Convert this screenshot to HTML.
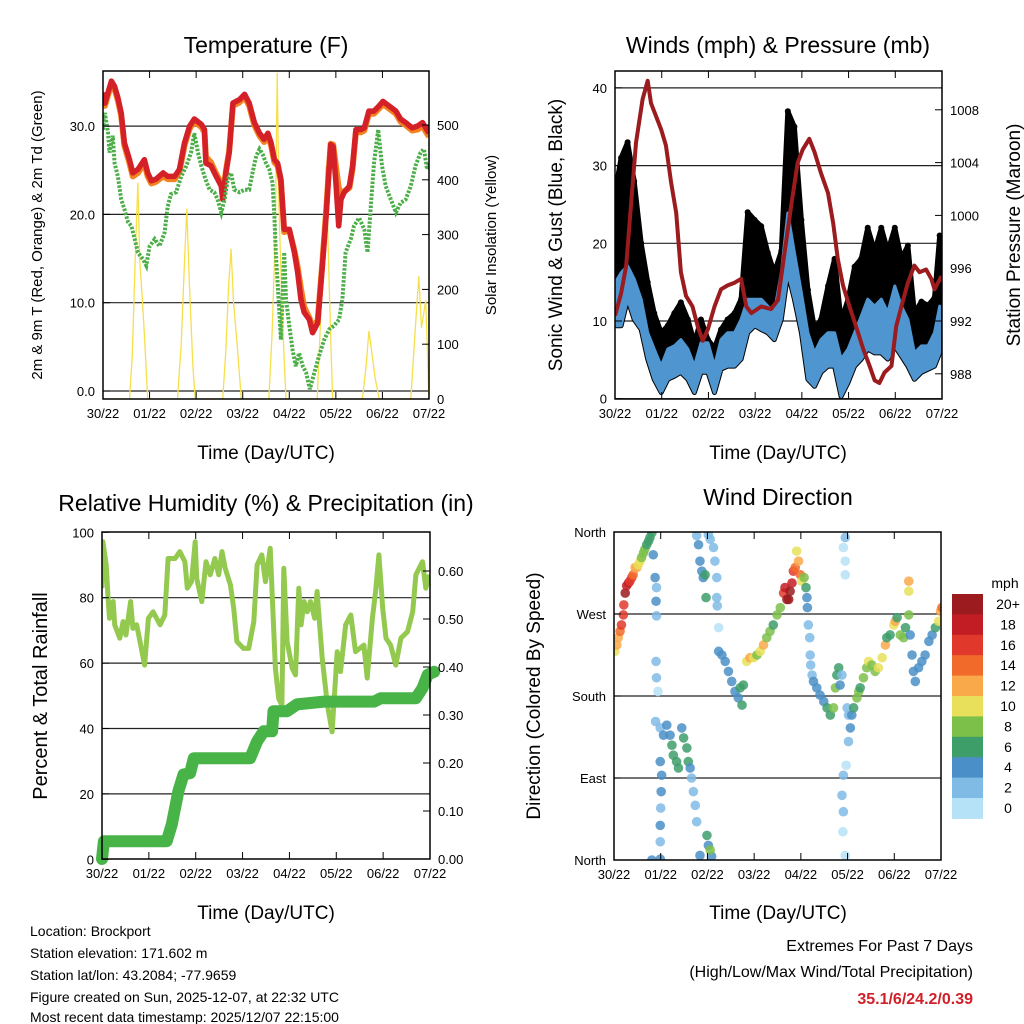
<!DOCTYPE html>
<html><head><meta charset="utf-8">
<style>
html,body{margin:0;padding:0;background:#fff;}
svg{display:block;font-family:"Liberation Sans",sans-serif;}
</style></head>
<body>
<svg id="chart" width="1024" height="1024" viewBox="0 0 1024 1024" xmlns="http://www.w3.org/2000/svg">
<rect x="0" y="0" width="1024" height="1024" fill="#fff"/>
<text x="266" y="53" font-size="23" text-anchor="middle">Temperature (F)</text>
<text x="778" y="53" font-size="23" text-anchor="middle">Winds (mph) &amp; Pressure (mb)</text>
<text x="266" y="511" font-size="23" text-anchor="middle">Relative Humidity (%) &amp; Precipitation (in)</text>
<text x="778" y="505" font-size="23" text-anchor="middle">Wind Direction</text>

<text transform="translate(42,235) rotate(-90)" font-size="15" text-anchor="middle">2m &amp; 9m T (Red, Orange) &amp; 2m Td (Green)</text>
<text transform="translate(496,235) rotate(-90)" font-size="15" text-anchor="middle">Solar Insolation (Yellow)</text>
<text transform="translate(562,235) rotate(-90)" font-size="19" text-anchor="middle">Sonic Wind &amp; Gust (Blue, Black)</text>
<text transform="translate(1020,235) rotate(-90)" font-size="19" text-anchor="middle">Station Pressure (Maroon)</text>
<text transform="translate(47,696) rotate(-90)" font-size="20" text-anchor="middle">Percent &amp; Total Rainfall</text>
<text transform="translate(540,696) rotate(-90)" font-size="19" text-anchor="middle">Direction (Colored By Speed)</text>

<text x="266" y="459" font-size="19" text-anchor="middle">Time (Day/UTC)</text>
<text x="778" y="459" font-size="19" text-anchor="middle">Time (Day/UTC)</text>
<text x="266" y="919" font-size="19" text-anchor="middle">Time (Day/UTC)</text>
<text x="778" y="919" font-size="19" text-anchor="middle">Time (Day/UTC)</text>

<g font-size="14">
<text x="30" y="936">Location: Brockport</text>
<text x="30" y="958">Station elevation: 171.602 m</text>
<text x="30" y="980">Station lat/lon: 43.2084; -77.9659</text>
<text x="30" y="1002">Figure created on Sun, 2025-12-07, at 22:32 UTC</text>
<text x="30" y="1024" dy="-2">Most recent data timestamp: 2025/12/07 22:15:00</text>
</g>
<g font-size="16" text-anchor="end">
<text x="973" y="951">Extremes For Past 7 Days</text>
<text x="973" y="977">(High/Low/Max Wind/Total Precipitation)</text>
<text x="973" y="1004" fill="#d0202a" font-weight="bold">35.1/6/24.2/0.39</text>
</g>
</svg>
<script>
// ---------- Data ----------
const dayLabels = ["30/22","01/22","02/22","03/22","04/22","05/22","06/22","07/22"];

const tempDays = [0,0.04,0.18,0.25,0.32,0.39,0.46,0.57,0.64,0.75,0.89,0.96,1.04,1.14,1.29,1.39,1.54,1.64,1.75,1.86,1.96,2.11,2.18,2.21,2.32,2.43,2.54,2.57,2.64,2.71,2.79,2.93,3.04,3.14,3.25,3.36,3.46,3.54,3.61,3.68,3.75,3.82,3.89,4.0,4.11,4.18,4.25,4.32,4.43,4.5,4.61,4.71,4.79,4.86,4.89,4.94,5.0,5.06,5.11,5.18,5.29,5.36,5.43,5.54,5.61,5.71,5.82,5.93,6.01,6.14,6.29,6.39,6.5,6.64,6.75,6.86,6.93,7.0];
const tempRed = [33.8,32.6,35.1,34.5,33.2,31.5,28.1,26.2,24.7,25.1,26.2,24.7,23.8,24.0,24.7,24.3,24.3,25.1,28.1,30.0,30.8,30.2,29.6,25.8,25.5,24.3,23.2,21.7,24.7,27.0,32.6,33.0,33.6,32.6,30.4,29.2,28.5,29.2,28.1,26.2,25.8,24.0,18.3,18.3,15.7,13.4,10.4,8.9,8.1,6.6,7.7,14.2,19.8,25.5,27.9,27.7,23.6,18.7,21.7,22.5,23.2,25.5,29.6,29.6,29.8,31.7,31.7,32.3,32.8,32.3,31.7,30.8,30.4,29.8,30.0,30.4,29.8,29.2];
const tempOrange = [33.5,32.3,34.8,34.2,32.9,31.2,27.8,25.8,24.3,24.7,25.8,24.3,23.5,23.7,24.3,24.0,24.0,24.8,27.8,29.7,30.5,29.9,29.3,26.5,25.9,24.6,23.5,22.0,24.9,27.2,32.3,32.7,33.3,32.3,30.1,28.9,28.2,28.9,27.8,25.9,25.5,23.7,18.0,18.2,15.9,14.0,11.6,9.5,8.3,7.2,8.0,14.6,20.3,25.8,28.0,27.9,25.5,23.0,22.5,22.6,23.0,25.2,29.3,29.3,29.5,31.4,31.4,32.0,32.5,32.0,31.4,30.5,30.1,29.5,29.6,30.0,29.4,28.8];

const dewDays = [0,0.04,0.11,0.14,0.21,0.25,0.32,0.39,0.46,0.54,0.61,0.68,0.75,0.86,0.93,1.0,1.11,1.21,1.32,1.39,1.46,1.57,1.68,1.79,1.89,1.96,2.04,2.11,2.18,2.29,2.39,2.46,2.54,2.61,2.68,2.75,2.82,2.93,3.04,3.14,3.21,3.29,3.36,3.43,3.5,3.57,3.64,3.68,3.71,3.77,3.82,3.89,3.93,4.0,4.07,4.14,4.21,4.29,4.36,4.44,4.54,4.64,4.75,4.86,4.96,5.07,5.14,5.21,5.32,5.39,5.5,5.61,5.68,5.75,5.82,5.91,5.99,6.07,6.18,6.29,6.39,6.5,6.61,6.71,6.82,6.89,6.96,7.0];
const dewVals = [29.6,31.5,29.2,27.0,28.9,25.8,24.3,21.7,20.6,19.1,18.7,17.2,15.7,14.9,14.2,16.4,17.2,16.4,17.9,20.9,22.3,22.5,24.3,25.5,27.0,29.2,27.0,25.5,24.3,22.8,22.5,21.7,20.2,21.7,24.0,24.7,22.8,22.5,22.8,22.8,24.7,26.6,27.4,26.8,25.8,25.1,23.6,19.8,15.7,10.4,5.8,15.7,10.4,7.4,4.7,2.8,4.3,2.8,2.1,0.2,2.1,4.0,5.8,7.0,7.4,8.1,10.4,15.7,17.2,18.7,19.6,18.3,15.7,20.9,25.8,29.6,25.5,23.2,21.7,20.2,21.3,21.7,23.2,25.5,27.0,27.4,25.1,25.8];

const solarDays = [0,0.57,0.63,0.69,0.75,0.79,0.84,0.9,0.96,1.6,1.68,1.75,1.8,1.86,1.93,1.98,2.57,2.64,2.7,2.75,2.8,2.88,2.97,3.56,3.63,3.7,3.74,3.78,3.85,3.93,4.6,4.7,4.79,4.86,4.93,5.57,5.65,5.71,5.78,5.84,5.93,6.61,6.7,6.78,6.84,6.93,7.0];
const solarVals = [0,0,80,250,395,250,190,100,0,0,100,250,347,200,60,0,0,90,210,274,180,100,0,0,120,300,595,350,150,0,0,200,425,200,0,0,60,124,80,40,0,0,120,224,130,180,0];

const windDays = [0,0.13,0.27,0.41,0.56,0.7,0.84,0.99,1.13,1.27,1.41,1.56,1.7,1.84,1.99,2.13,2.27,2.41,2.56,2.7,2.84,2.99,3.13,3.27,3.41,3.56,3.7,3.84,3.99,4.13,4.27,4.41,4.56,4.7,4.84,4.99,5.13,5.27,5.41,5.56,5.7,5.84,5.99,6.13,6.27,6.41,6.56,6.7,6.84,6.95];
const gustHigh = [26.5,31,33,28,20,15,11,8.5,9.4,11,12.4,10.2,7.2,10.2,7.6,6.5,8.9,10.2,11,12.8,24,23,22.2,18.8,16.2,19,37,35,23,14,9,10.2,14.5,18,10,12.8,17,18,22,19,22,19,22,18,19.7,11,12.5,12,13,21];
const windHigh = [14.9,16.2,17.1,15.4,12.8,8.5,6.4,4.2,6.4,6.8,7.6,6.4,4.2,7.2,7.2,4.2,7.6,8.5,8.5,10.2,12.8,12.8,12.8,11.9,11.1,16.2,23.9,18.8,13.6,8.5,5.9,7.6,8.5,8.5,5.1,6.4,8.5,10.6,12.8,11.9,12.8,11.1,14.5,11.9,10.2,5.9,6.8,6.8,8.5,11.9];
const windLow = [9.4,9.4,12.8,10.2,8.9,5.1,2.5,0.8,2.5,2.9,3.4,2.5,0.8,3.4,3.4,0.8,3.8,4.2,4.2,5.1,8.5,9.4,8.9,8.5,7.6,10.2,16.2,12.8,8.5,2.5,1.6,3.4,4.2,4.2,0.3,2.1,4.2,5.1,6.4,5.9,5.9,5.1,6.8,5.5,4.2,2.5,3.4,3.8,4.2,5.9];

const presDays = [0,0.13,0.24,0.34,0.45,0.59,0.7,0.77,0.88,0.99,1.09,1.2,1.31,1.41,1.52,1.66,1.77,1.88,1.99,2.13,2.27,2.41,2.56,2.7,2.81,2.92,3.13,3.34,3.49,3.63,3.77,3.91,4.02,4.16,4.27,4.41,4.56,4.67,4.77,4.88,5.02,5.16,5.31,5.45,5.56,5.66,5.77,5.92,6.02,6.13,6.27,6.41,6.52,6.66,6.77,6.84,6.99];
const presVals = [992.4,994.1,996.2,1000.7,1005.5,1008.8,1010.2,1008.5,1007.5,1006.5,1005.3,1002.5,1000.2,995.7,993.9,993.1,991.6,990.5,991.4,993.1,994.4,994.7,994.9,995.2,993.1,992.6,993.1,992.9,993.6,997.2,1000.7,1004.0,1005.0,1005.8,1004.8,1003.2,1001.7,999.4,996.7,994.7,993.1,991.6,989.9,988.6,987.5,987.3,988.1,988.6,991.6,993.1,994.9,996.2,995.7,995.9,995.2,994.4,995.4];

const rhDays = [0,0.02,0.09,0.13,0.16,0.24,0.27,0.38,0.45,0.51,0.61,0.66,0.74,0.81,0.91,0.99,1.09,1.24,1.34,1.41,1.56,1.66,1.77,1.82,1.91,1.99,2.02,2.13,2.22,2.31,2.41,2.49,2.56,2.63,2.74,2.81,2.88,3.02,3.13,3.24,3.31,3.41,3.49,3.59,3.7,3.77,3.84,3.88,3.95,4.06,4.13,4.2,4.25,4.31,4.38,4.45,4.54,4.59,4.7,4.81,4.91,5.02,5.09,5.2,5.31,5.41,5.59,5.66,5.77,5.84,5.91,5.99,6.06,6.16,6.27,6.38,6.52,6.63,6.7,6.84,6.91,6.99];
const rhVals = [82.9,97.1,90,79.8,73.7,78.8,71.7,67.6,72.7,68.6,78.8,70.6,71.7,66.6,59.4,73.7,75.7,71.7,74.7,92,92,94.1,91,82.9,84.9,97.1,85.9,78.8,91,87,92,87,94.1,89,83.9,76.8,66.6,64.5,64.5,72.7,90,93.1,84.9,95.1,58.4,49.2,47.2,89,66.6,58.4,56.4,82.9,71.7,78.8,75.7,78.8,73.7,81.9,61.5,47.2,39,63.5,57.4,71.7,74.7,63.5,65.5,55.4,73.7,81.9,93.1,76.8,67.6,65.5,59.4,67.6,69.6,75.7,87,91,82.9,87];

const rainDays = [0,0.04,1.38,1.49,1.63,1.74,1.88,1.96,3.16,3.31,3.45,3.63,3.66,3.95,4.16,4.74,5.81,5.95,6.7,6.84,6.95,7.09];
const rainVals = [0,0.037,0.037,0.072,0.141,0.176,0.179,0.21,0.21,0.245,0.266,0.266,0.308,0.308,0.322,0.328,0.328,0.335,0.335,0.356,0.384,0.39];

const dirDays = [0.02,0.06,0.09,0.13,0.16,0.2,0.21,0.24,0.27,0.31,0.34,0.38,0.41,0.45,0.49,0.52,0.56,0.59,0.63,0.66,0.7,0.74,0.77,0.81,0.84,0.88,0.91,0.9,0.91,0.9,0.91,0.94,
 0.89,0.99,1.06,1.13,1.2,1.24,1.27,1.34,1.38,1.45,1.49,1.56,1.59,1.63,1.66,1.7,1.74,1.77,0.99,1.02,1.01,1.0,0.99,0.99,0.81,0.99,1.84,1.99,2.02,2.09,2.06,
 1.77,1.81,1.84,1.88,1.91,1.95,1.97,2.02,2.06,2.13,2.16,2.2,2.2,2.21,2.24,
 2.24,2.31,2.38,2.45,2.52,2.59,2.66,2.7,2.74,2.77,2.84,2.91,2.99,3.06,3.13,3.2,3.27,3.34,3.41,3.49,3.56,3.63,3.66,3.7,3.74,3.77,3.81,3.84,3.88,3.91,3.95,3.99,4.02,4.07,4.11,4.13,4.14,4.16,4.19,4.2,4.21,4.24,
 4.27,4.34,4.41,4.49,4.56,4.63,4.7,4.74,4.77,4.81,4.84,4.88,4.95,4.91,4.95,4.95,4.99,5.02,5.06,5.02,4.97,4.91,4.88,4.91,4.9,4.95,5.09,5.13,5.2,5.24,5.27,5.34,5.41,5.45,5.52,5.59,5.66,5.74,5.81,5.84,5.91,5.99,6.02,6.06,6.13,6.2,6.24,6.31,6.31,6.31,6.34,6.38,6.41,6.45,6.52,6.59,6.66,6.74,6.81,6.88,6.95,6.99,7.02];
const dirDeg = [229,236,244,251,258,269,280,293,301,304,306,310,313,321,321,324,328,332,337,341,346,350,354,359,335,310,299,284,268,218,200,185,
 152,145,137,148,137,126,115,108,101,145,134,123,108,101,90,75,60,42,108,93,75,57,38,20,0,1,5,27,16,4,11,
 356,346,328,317,310,313,288,357,352,343,328,310,288,279,255,
 229,225,218,207,196,185,178,189,170,192,218,222,222,225,229,236,244,251,258,269,277,293,299,286,286,295,304,317,321,339,328,313,306,310,299,288,277,258,244,225,214,203,
 196,189,181,174,167,159,167,189,203,211,192,203,354,343,328,313,167,159,145,130,104,93,71,53,31,5,159,167,178,185,189,200,211,218,214,207,211,222,236,244,247,258,262,266,247,244,255,269,295,306,247,225,207,196,211,218,225,240,247,255,262,273,277];
const dirSpeed = [11,12,12,14,16,17,16,20,19,18,17,16,14,13,12,10,10,9,8,8,7,6,6,7,5,4,3,4,2,3,3,1,
 2,3,4,4,4,6,6,7,6,4,6,6,6,4,2,2,2,2,4,4,4,3,4,3,4,4,4,6,5,4,8,
 3,4,4,4,5,6,6,2,3,2,2,2,3,2,1,
 4,5,5,4,4,4,5,6,6,6,11,12,10,9,10,12,8,8,7,8,9,16,18,20,20,20,19,16,14,10,12,14,11,8,6,4,4,3,3,2,2,2,
 4,4,4,5,6,7,9,8,6,6,5,2,3,1,1,1,2,3,4,3,1,3,3,3,1,1,5,6,8,8,7,8,9,11,8,8,10,11,12,6,6,10,13,6,8,8,7,8,10,13,4,4,4,4,4,4,4,5,5,6,10,13,14];

const speedColors = ["#b5e2f7","#7fbbe5","#4a8fc7","#3e9e6a","#7cc04a","#e8e05a","#f9a84a","#f26a2a","#e0382b","#c21d24","#9b1b1e"];
const speedLabels = ["0","2","4","6","8","10","12","14","16","18","20+"];

// ---------- Setup ----------
const NS = "http://www.w3.org/2000/svg";
const svg = document.getElementById("chart");
function make(tag, attrs, parent) {
  const e = document.createElementNS(NS, tag);
  for (const k in attrs) e.setAttribute(k, attrs[k]);
  (parent || svg).appendChild(e);
  return e;
}
const P1 = {x0:103, x1:429, y0:71, y1:399};
const P2 = {x0:615, x1:942, y0:71, y1:399};
const P3 = {x0:102, x1:430, y0:532, y1:859};
const P4 = {x0:614, x1:941, y0:532, y1:860};
function xs(P, d) { return P.x0 + d / 7 * (P.x1 - P.x0); }
const yTemp = t => 391 - t * 8.83;
const ySolar = v => 399 - v * 0.548;
const yWind = w => 398.7 - w * 7.77;
const yPres = p => 321 - (p - 992) * 13.2;
const yRh = r => 859.3 - r * 3.27;
const yRain = p => 859 - p * 480;
const yDir = d => 860 - d / 360 * 328;

const defs = make("defs", {});
[P1,P2,P3,P4].forEach((P,i) => {
  const cp = make("clipPath", {id:"clip"+i}, defs);
  make("rect", {x:P.x0, y:P.y0, width:P.x1-P.x0, height:P.y1-P.y0}, cp);
});

function linePath(P, days, vals, yf) {
  return days.map((d,i) => (i ? "L" : "M") + xs(P,d).toFixed(1) + "," + yf(vals[i]).toFixed(1)).join(" ");
}
function gridLine(P, y, name) {
  const l = make("line", {x1:P.x0, x2:P.x1, y1:y, y2:y, stroke:"#222", "stroke-width":1.2});
  
  
}
function xAxis(P, panel) {
  dayLabels.forEach((lab, i) => {
    const x = xs(P, i);
    const t = make("line", {x1:x, x2:x, y1:P.y1, y2:P.y1-7, stroke:"#000", "stroke-width":1});
    
    
    const t2 = make("line", {x1:x, x2:x, y1:P.y0, y2:P.y0+7, stroke:"#000", "stroke-width":1});
    
    
    const tx = make("text", {x:x, y:P.y1+19, "font-size":13, "text-anchor":"middle"});
    tx.textContent = lab;
    
    
  });
}
function yLabels(P, ticks, labels, yf, side, panel) {
  ticks.forEach((v,i) => {
    const y = yf(v);
    const x = side === "left" ? P.x0 : P.x1;
    const dir = side === "left" ? 1 : -1;
    const t = make("line", {x1:x, x2:x+dir*7, y1:y, y2:y, stroke:"#000"});
    
    
    const tx = make("text", {x: side === "left" ? P.x0-8 : P.x1+8, y:y+5, "font-size":13, "text-anchor": side === "left" ? "end" : "start"});
    tx.textContent = labels[i];
    
    
  });
}
function frame(P, name) {
  const r = make("rect", {x:P.x0, y:P.y0, width:P.x1-P.x0, height:P.y1-P.y0, fill:"none", stroke:"#000", "stroke-width":1.5});
  
  
}

// ---------- Panel 1: Temperature ----------
const tempTicks = [0,10,20,30];
const tempTickLabels = ["0.0","10.0","20.0","30.0"];
const solarTicks = [0,100,200,300,400,500];
const solarTickLabels = ["0","100","200","300","400","500"];
tempTicks.forEach(v => gridLine(P1, yTemp(v), 'temperature-gridline'));
const g1 = make("g", {"clip-path":"url(#clip0)"});


const solarLine = make("path", {d:linePath(P1, solarDays, solarVals, ySolar), fill:"none", stroke:"#f7df4a", "stroke-width":1.3}, g1);


const orangeLine = make("path", {d:linePath(P1, tempDays, tempOrange, yTemp), fill:"none", stroke:"#f58220", "stroke-width":6, "stroke-linejoin":"round"}, g1);


const redLine = make("path", {d:linePath(P1, tempDays, tempRed, yTemp), fill:"none", stroke:"#d42027", "stroke-width":5.5, "stroke-linejoin":"round"}, g1);


const dewLine = make("path", {d:linePath(P1, dewDays, dewVals, yTemp), fill:"none", stroke:"#4cae48", "stroke-width":4, "stroke-dasharray":"2.5 1.5"}, g1);


frame(P1, 'temperature-frame');
xAxis(P1, 'temperature');
yLabels(P1, tempTicks, tempTickLabels, yTemp, "left", 'temperature');
yLabels(P1, solarTicks, solarTickLabels, ySolar, "right", 'solar');

// ---------- Panel 2: Winds ----------
const windTicks = [0,10,20,30,40];
const windTickLabels = ["0","10","20","30","40"];
const presTicks = [988,992,996,1000,1004,1008];
const presTickLabels = ["988","992","996","1000","1004","1008"];
windTicks.forEach(v => gridLine(P2, yWind(v), 'wind-gridline'));
const g2 = make("g", {"clip-path":"url(#clip1)"});


let gp = linePath(P2, windDays, gustHigh, yWind);
for (let i = windDays.length-1; i >= 0; i--) gp += " L" + xs(P2, windDays[i]).toFixed(1) + "," + yWind(windLow[i]).toFixed(1);
const gustBand = make("path", {d:gp+" Z", fill:"#000", stroke:"#000", "stroke-width":5, "stroke-linejoin":"round"}, g2);


windDays.forEach((d,i) => {
  const c = make("circle", {cx:xs(P2,d), cy:yWind(gustHigh[i]), r:3, fill:"#000"}, g2);
  
  
});
let bp = linePath(P2, windDays, windHigh, yWind);
for (let i = windDays.length-1; i >= 0; i--) bp += " L" + xs(P2, windDays[i]).toFixed(1) + "," + yWind(windLow[i]).toFixed(1);
const windBand = make("path", {d:bp+" Z", fill:"#4f95d0", stroke:"#4f95d0", "stroke-width":3, "stroke-linejoin":"round"}, g2);


const presLine = make("path", {d:linePath(P2, presDays, presVals, yPres), fill:"none", stroke:"#9b1b1e", "stroke-width":4, "stroke-linejoin":"round"}, g2);


frame(P2, 'winds-frame');
xAxis(P2, 'winds');
yLabels(P2, windTicks, windTickLabels, yWind, "left", 'wind');
yLabels(P2, presTicks, presTickLabels, yPres, "right", 'pressure');

// ---------- Panel 3: RH & Precip ----------
const rhTicks = [0,20,40,60,80,100];
const rhTickLabels = ["0","20","40","60","80","100"];
const rainTicks = [0,0.1,0.2,0.3,0.4,0.5,0.6];
const rainTickLabels = ["0.00","0.10","0.20","0.30","0.40","0.50","0.60"];
[20,40,60,80].forEach(v => gridLine(P3, yRh(v), 'humidity-gridline'));
const g3 = make("g", {"clip-path":"url(#clip2)"});


const rhLine = make("path", {d:linePath(P3, rhDays, rhVals, yRh), fill:"none", stroke:"#93c94f", "stroke-width":5, "stroke-linejoin":"round"}, g3);


const rainLine = make("path", {d:linePath(P3, rainDays, rainVals, yRain), fill:"none", stroke:"#48b448", "stroke-width":12, "stroke-linejoin":"round", "stroke-linecap":"round"}, svg);


frame(P3, 'humidity-frame');
xAxis(P3, 'humidity');
yLabels(P3, rhTicks, rhTickLabels, yRh, "left", 'humidity');
yLabels(P3, rainTicks, rainTickLabels, yRain, "right", 'precipitation');

// ---------- Panel 4: Wind direction ----------
const dirTicks = [0,90,180,270,360];
const dirTickLabels = ["North","East","South","West","North"];
[90,180,270].forEach(v => gridLine(P4, yDir(v), 'direction-gridline'));
const g4 = make("g", {"clip-path":"url(#clip3)"});


dirDays.forEach((d,i) => {
  const s = dirSpeed[i];
  const ci = Math.min(10, Math.floor(s/2));
  const c = make("circle", {cx:xs(P4,d), cy:yDir(dirDeg[i]), r:4.8, fill:speedColors[ci], "fill-opacity":0.85}, g4);
  
  
});
frame(P4, 'direction-frame');
xAxis(P4, 'direction');
yLabels(P4, dirTicks, dirTickLabels, yDir, "left", 'direction');

// colorbar
const cbTop = 594, cbH = 20.4;
const mph = make("text", {x:1005, y:588, "font-size":14, "text-anchor":"middle"});
mph.textContent = "mph";


for (let i = 0; i < 11; i++) {
  const idx = 10 - i;
  const r = make("rect", {x:952, y:cbTop + i*cbH, width:31, height:cbH+0.5, fill:speedColors[idx]});
  
  
  const t = make("text", {x:1008, y:cbTop + i*cbH + 15, "font-size":14, "text-anchor":"middle"});
  t.textContent = speedLabels[idx];
  
  
}
</script>
</body></html>
